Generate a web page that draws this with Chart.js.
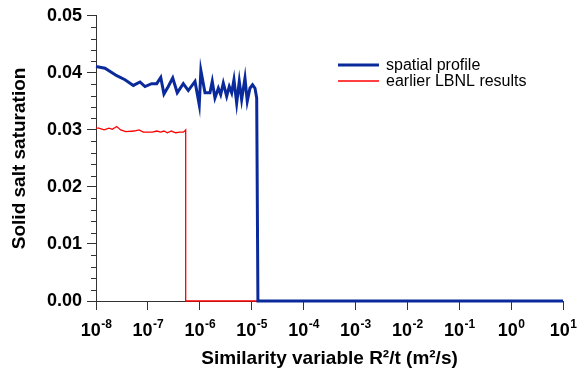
<!DOCTYPE html>
<html>
<head>
<meta charset="utf-8">
<script src="https://cdn.jsdelivr.net/npm/chart.js@4/dist/chart.umd.min.js"></script>
<style>
  html, body { margin: 0; padding: 0; background: #fff; }
  #wrap { width: 577px; height: 373px; position: relative; }
</style>
</head>
<body>
<div id="wrap"><canvas id="c" width="577" height="373"></canvas></div>
<script>
// ---- data ----
const seriesNames = ["spatial profile", "earlier LBNL results"];

const profileX = [1.0e-8, 1.49e-8, 2.51e-8, 3.62e-8, 5.24e-8, 7.05e-8, 8.79e-8, 1.18e-7, 1.48e-7, 1.77e-7,
  2.04e-7, 2.47e-7, 3.01e-7, 3.68e-7, 4.81e-7, 6.00e-7, 8.09e-7, 9.77e-7, 1.05e-6, 1.26e-6,
  1.57e-6, 1.74e-6, 1.96e-6, 2.28e-6, 2.53e-6, 2.84e-6, 3.30e-6, 3.70e-6, 4.12e-6, 4.56e-6,
  5.14e-6, 5.77e-6, 6.41e-6, 7.43e-6, 8.22e-6, 9.27e-6, 1.04e-5, 1.16e-5, 1.25e-5, 1.32e-5, 1.0e1];
const profileY = [0.0411, 0.0408, 0.0395, 0.0388, 0.0378, 0.0384, 0.0376, 0.0381, 0.0381, 0.0392,
  0.0363, 0.0376, 0.0391, 0.0365, 0.0381, 0.0369, 0.0385, 0.0344, 0.0404, 0.0365,
  0.0365, 0.0385, 0.0356, 0.0373, 0.0362, 0.0382, 0.0359, 0.0376, 0.0365, 0.0388,
  0.0347, 0.0385, 0.0353, 0.0391, 0.0350, 0.0373, 0.0379, 0.0373, 0.0356, 0.0, 0.0];

const lbnlX = [1.0e-8, 1.14e-8, 1.43e-8, 1.78e-8, 2.06e-8, 2.51e-8, 2.99e-8, 3.73e-8, 5.40e-8, 6.74e-8,
  8.15e-8, 1.22e-7, 1.48e-7, 1.77e-7, 2.04e-7, 2.37e-7, 2.83e-7, 3.43e-7, 4.15e-7, 4.81e-7,
  5.12e-7, 5.35e-7, 5.35e-7, 1.0e1];
const lbnlY = [0.0303, 0.0303, 0.0300, 0.0303, 0.0301, 0.0306, 0.0300, 0.0297, 0.0298, 0.0300,
  0.0296, 0.0296, 0.0298, 0.0296, 0.0298, 0.0295, 0.0298, 0.0295, 0.0296, 0.0296,
  0.0298, 0.0300, 0.0, 0.0];

const xTickValues = [1e-8, 1e-7, 1e-6, 1e-5, 1e-4, 1e-3, 1e-2, 1e-1, 1e0, 1e1];
const xTickBase = "10";
const xTickExponents = ["-8", "-7", "-6", "-5", "-4", "-3", "-2", "-1", "0", "1"];
const yTickValues = [0.00, 0.01, 0.02, 0.03, 0.04, 0.05];
const yTickLabels = ["0.00", "0.01", "0.02", "0.03", "0.04", "0.05"];
const yMinorTicks = [0.002, 0.004, 0.006, 0.008, 0.012, 0.014, 0.016, 0.018, 0.022, 0.024, 0.026, 0.028,
  0.032, 0.034, 0.036, 0.038, 0.042, 0.044, 0.046, 0.048];

const xTitle = "Similarity variable R\u00B2/t (m\u00B2/s)";
const yTitle = "Solid salt saturation";

const colors = ["#0a2a9c", "#ff0000"];

const FAMILY = '"Liberation Sans", Arial, sans-serif';

// ---- plugins ----
const minorTicks = {
  id: 'minorTicks',
  afterDraw(chart) {
    const ctx = chart.ctx, y = chart.scales.y, left = chart.chartArea.left;
    ctx.save();
    ctx.strokeStyle = '#333';
    ctx.lineWidth = 1;
    ctx.beginPath();
    yMinorTicks.forEach(v => {
      const py = Math.round(y.getPixelForValue(v)) + 0.5;
      ctx.moveTo(left - 5, py);
      ctx.lineTo(left, py);
    });
    ctx.stroke();
    ctx.restore();
  }
};

// power-of-ten tick labels with real superscript exponents
const powerLabels = {
  id: 'powerLabels',
  afterDraw(chart) {
    const ctx = chart.ctx, xs = chart.scales.x;
    const baseY = chart.chartArea.bottom + 35;
    ctx.save();
    ctx.fillStyle = '#000';
    ctx.textBaseline = 'alphabetic';
    ctx.textAlign = 'left';
    xTickValues.forEach((v, i) => {
      const px = xs.getPixelForValue(v);
      ctx.font = 'bold 18px ' + FAMILY;
      const wb = ctx.measureText(xTickBase).width;
      ctx.font = 'bold 12px ' + FAMILY;
      const we = ctx.measureText(xTickExponents[i]).width;
      const x0 = px - (wb + we) / 2;
      ctx.font = 'bold 18px ' + FAMILY;
      ctx.fillText(xTickBase, x0, baseY);
      ctx.font = 'bold 12px ' + FAMILY;
      ctx.fillText(xTickExponents[i], x0 + wb + 0.5, baseY - 8);
    });
    ctx.restore();
  }
};

const customLegend = {
  id: 'customLegend',
  afterDraw(chart) {
    const ctx = chart.ctx;
    const x0 = 338, x1 = 379, tx = 386;
    const rows = [65, 81];
    ctx.save();
    ctx.font = '16px ' + FAMILY;
    ctx.textBaseline = 'middle';
    ctx.fillStyle = '#000';
    chart.data.datasets.forEach((ds, i) => {
      ctx.strokeStyle = ds.borderColor;
      ctx.lineWidth = ds.borderWidth;
      ctx.beginPath();
      ctx.moveTo(x0, rows[i]);
      ctx.lineTo(x1, rows[i]);
      ctx.stroke();
      ctx.fillText(ds.label, tx, rows[i] + 1);
    });
    ctx.restore();
  }
};

new Chart(document.getElementById('c'), {
  type: 'line',
  data: {
    datasets: [
      {
        label: seriesNames[0],
        data: profileX.map((x, i) => ({ x: x, y: profileY[i] })),
        borderColor: colors[0],
        borderWidth: 3,
        pointRadius: 0,
        tension: 0,
        clip: 6
      },
      {
        label: seriesNames[1],
        data: lbnlX.map((x, i) => ({ x: x, y: lbnlY[i] })),
        borderColor: colors[1],
        borderWidth: 1.3,
        pointRadius: 0,
        tension: 0,
        clip: 6
      }
    ]
  },
  options: {
    responsive: false,
    animation: false,
    devicePixelRatio: 1,
    layout: { padding: { left: 0, right: 14, top: 14, bottom: 0 } },
    plugins: {
      legend: { display: false },
      tooltip: { enabled: false }
    },
    scales: {
      x: {
        type: 'logarithmic',
        min: 1e-8,
        max: 1e1,
        afterBuildTicks(scale) {
          scale.ticks = xTickValues.map(v => ({ value: v, major: true }));
        },
        afterFit(scale) { scale.height = 72; },
        ticks: { display: false, autoSkip: false, maxRotation: 0 },
        grid: { drawOnChartArea: false, drawTicks: true, tickLength: 9, color: '#333' },
        border: { display: true, color: '#333', width: 1 },
        title: {
          display: true,
          text: xTitle,
          color: '#000',
          font: { family: FAMILY, size: 19, weight: 'bold' },
          padding: { top: 0, bottom: 3 }
        }
      },
      y: {
        type: 'linear',
        min: 0,
        max: 0.05,
        afterBuildTicks(scale) {
          scale.ticks = yTickValues.map(v => ({ value: v }));
        },
        afterFit(scale) { scale.width = 96; },
        ticks: {
          color: '#000',
          font: { family: FAMILY, size: 18, weight: 'bold' },
          padding: 5,
          callback(value) {
            const i = yTickValues.findIndex(t => Math.abs(t - value) < 1e-9);
            return i >= 0 ? yTickLabels[i] : '';
          }
        },
        grid: { drawOnChartArea: false, drawTicks: true, tickLength: 9, color: '#333' },
        border: { display: true, color: '#333', width: 1 },
        title: {
          display: true,
          text: yTitle,
          color: '#000',
          font: { family: FAMILY, size: 19, weight: 'bold' },
          padding: { top: 8, bottom: 0 }
        }
      }
    }
  },
  plugins: [minorTicks, powerLabels, customLegend]
});
</script>
</body>
</html>
